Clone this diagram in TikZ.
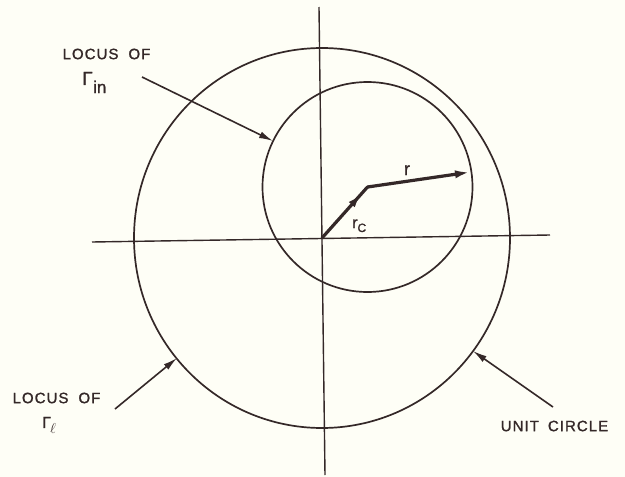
\documentclass[tikz,border=0pt]{standalone}
\usepackage{fontspec}
\setmainfont{Liberation Sans}
\usetikzlibrary{arrows.meta,decorations.markings}
\definecolor{ink}{RGB}{52,40,40}
\definecolor{paper}{RGB}{254,254,246}
\begin{document}
\begin{tikzpicture}[x=1pt,y=-1pt,
  axis/.style={draw=ink,line width=1.4pt},
  locus/.style={draw=ink,line width=1.7pt},
  pointer/.style={draw=ink,line width=1.6pt,-{Latex[length=14pt,width=7pt]}},
  vec/.style={draw=ink,line width=3.2pt,line cap=round},
  lbl/.style={inner sep=0pt,text=ink,font=\fontsize{15}{15}\selectfont\addfontfeatures{LetterSpace=7,FakeBold=1.2}},
  sym/.style={inner sep=0pt,text=ink,font=\addfontfeatures{FakeBold=1.2}}
]
\fill[paper] (0,0) rectangle (625,477);
\useasboundingbox (0,0) rectangle (625,477);

% axes
\coordinate (ytop) at (319,7);
\coordinate (ybot) at (325,475);
\coordinate (xl) at (92,242);
\coordinate (xr) at (550,235);
\draw[axis] (ytop) -- (ybot);
\draw[axis] (xl) -- (xr);

% circles
\coordinate (O) at (322,238);
\coordinate (Cc) at (367.5,187);
\coordinate (R) at (471,172);
\draw[locus] (O) ellipse [x radius=188, y radius=190];
\draw[locus] (Cc) circle [radius=105];

% vectors
\draw[vec,postaction={decorate},decoration={markings,mark=at position 0.86 with {\arrow{Latex[length=14pt,width=8pt]}}}] (O) -- (Cc);
\draw[vec,-{Latex[length=16pt,width=8pt]}] (Cc) -- (R);
\node[sym,anchor=base] (rl) at (407,175) {\fontsize{18}{18}\selectfont\addfontfeatures{FakeBold=1.2}r};
\node[sym,anchor=base west] (rcl) at (352,228) {\fontsize{16}{16}\selectfont\addfontfeatures{FakeBold=1.2}r\raisebox{-4pt}{\fontsize{12}{12}\selectfont\addfontfeatures{FakeBold=1.2}C}};

% labels
\node[lbl] (l1) at (106.5,54) {LOCUS\hspace{10pt}OF};
\node[sym,anchor=base west] (g1) at (82,85) {\fontsize{19}{19}\selectfont\addfontfeatures{FakeBold=1.2}Γ\kern0.5pt\raisebox{-8pt}{\fontsize{17}{17}\selectfont\addfontfeatures{FakeBold=1.2}in}};
\node[lbl] (l2) at (56.5,398) {LOCUS\hspace{10pt}OF};
\node[sym,anchor=base west] (g2) at (42,428) {\fontsize{16}{16}\selectfont\addfontfeatures{FakeBold=1.2}Γ\kern-1pt\raisebox{-5pt}{\fontsize{15}{15}\selectfont$\ell$}};
\node[lbl] (uc) at (554.5,426) {UNIT\hspace{9pt}CIRCLE};

% pointers
\coordinate (tA) at (142,77);
\coordinate (hA) at (273,141);
\coordinate (tB) at (115,409);
\coordinate (hB) at (177,358);
\coordinate (tC) at (553,407);
\coordinate (hC) at (473,351);
\draw[pointer] (tA) -- (hA);
\draw[pointer] (tB) -- (hB);
\draw[pointer] (tC) -- (hC);
\end{tikzpicture}
\end{document}
